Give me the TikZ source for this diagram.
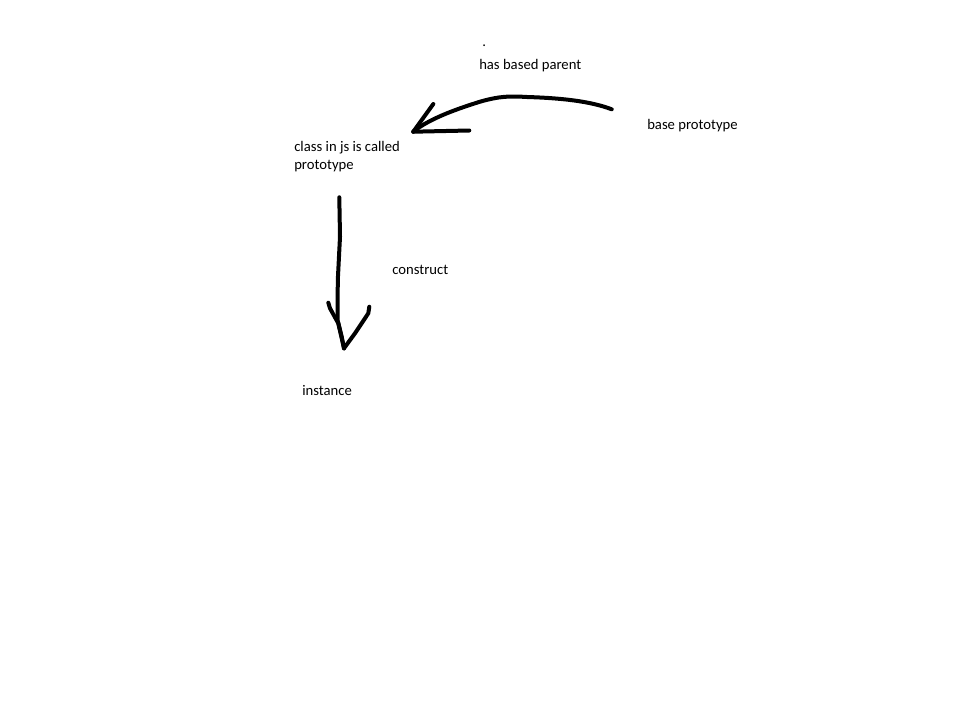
\documentclass[tikz,border=0pt]{standalone}
\usepackage{fontspec}
\setmainfont{Carlito}
\begin{document}
\begin{tikzpicture}[x=0.75pt,y=-0.75pt,
  label/.style={anchor=west,inner sep=0pt,font=\fontsize{11}{13.5}\selectfont,align=left},
  pen/.style={line width=3pt,line cap=round,line join=round}]
\useasboundingbox[fill=white] (0,0) rectangle (953,700);
% texts
\node[label] (dot) at (482,46) {.};
\node[label] (parent) at (479,66) {has based parent};
\node[label] (base) at (647,126) {base prototype};
\node[label] (cls) at (294,157) {class in js is called\\prototype};
\node[label] (construct) at (392,270) {construct};
\node[label] (inst) at (302,391) {instance};
% end points of the freehand strokes
\coordinate (baseEnd) at (611.7,109.3);
\coordinate (clsTip) at (413.3,131.7);
\coordinate (clsTop) at (339.3,197.3);
\coordinate (instTip) at (344,348.3);
% curved arrow: base prototype -> class
\draw[pen] (baseEnd) .. controls (590,101) and (560,98) .. (527,97)
  .. controls (510,96) and (500,96) .. (480,101.7)
  .. controls (460,108) and (430,118) .. (clsTip);
\draw[pen] (clsTip) -- (433.3,104);
\draw[pen] (clsTip) -- (469.3,130.5);
% straight arrow: class -> instance
\draw[pen] (clsTop) -- (340,236.7) -- (337.8,280) -- (337.5,320)
  -- (341.7,336.7) -- (instTip);
\draw[pen] (328.3,302.7) -- (330,308.3) -- (338.3,323.3) -- (instTip);
\draw[pen] (369.3,306.7) -- (368.3,313.3) -- (355,333.3) -- (instTip);
\end{tikzpicture}
\end{document}
